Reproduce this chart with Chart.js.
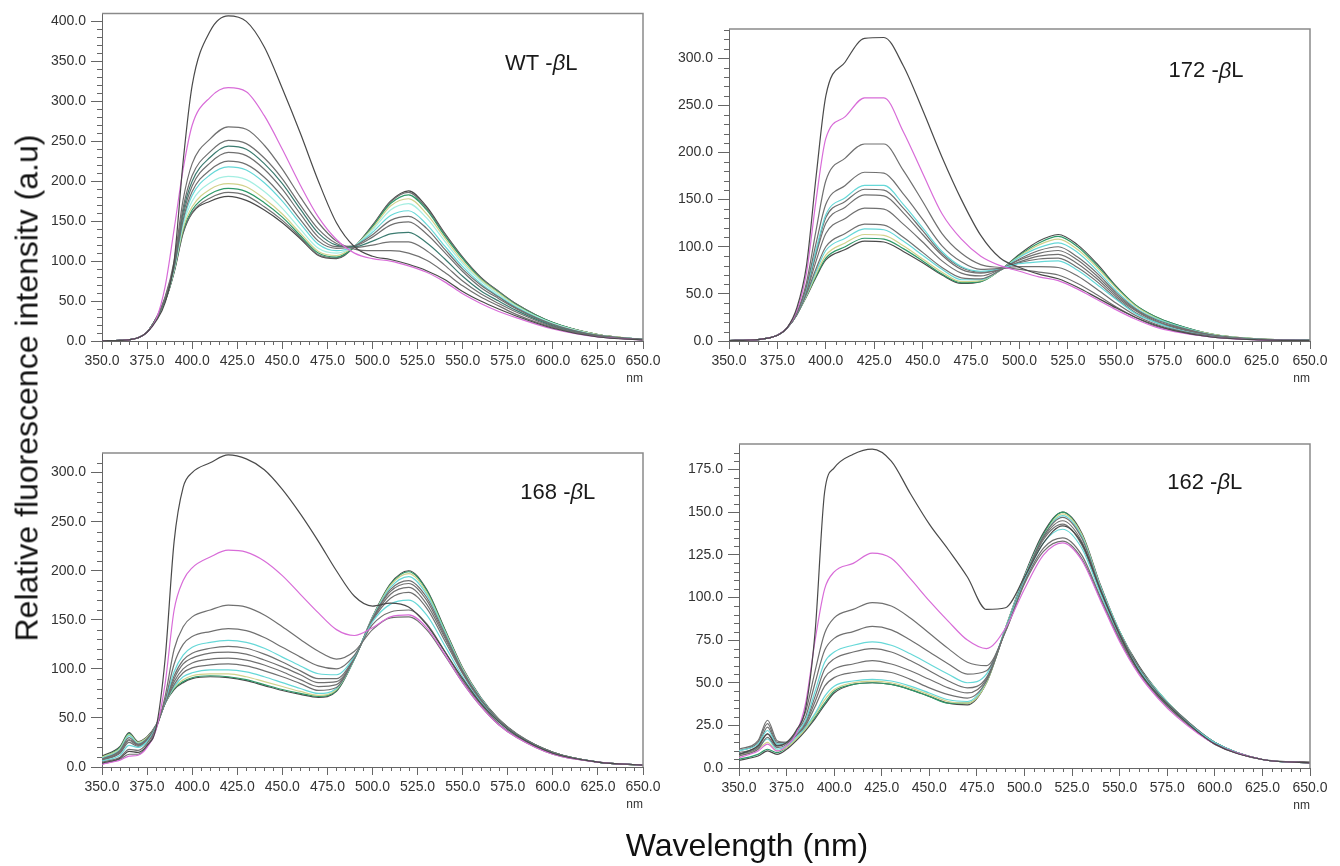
<!DOCTYPE html>
<html>
<head>
<meta charset="utf-8">
<script src="https://cdn.jsdelivr.net/npm/chart.js@4.4.1/dist/chart.umd.min.js"></script>
<style>
body{margin:0;background:#fff;width:1340px;height:866px;position:relative;overflow:hidden;font-family:"Liberation Sans",Arial,sans-serif}
canvas{position:absolute}
#ylab{position:absolute;left:27px;top:388px;transform:translate(-50%,-50%) rotate(-90deg);font-size:32px;white-space:nowrap;color:#111}
#xlab{position:absolute;left:747px;top:845px;transform:translate(-50%,-50%);font-size:32px;white-space:nowrap;color:#111}
</style>
</head>
<body>
<canvas id="c1" width="630" height="400" style="left:40px;top:0px"></canvas>
<canvas id="c2" width="670" height="400" style="left:670px;top:0px"></canvas>
<canvas id="c3" width="630" height="410" style="left:40px;top:420px"></canvas>
<canvas id="c4" width="670" height="410" style="left:670px;top:420px"></canvas>
<div id="ylab">Relative fluorescence intensitv (a.u)</div>
<div id="xlab">Wavelength (nm)</div>
<script>
// wavelengths (nm) at which the spectra were read
const wl = [350,360,365,370,375,380,385,390,395,400,410,420,430,440,450,460,470,480,490,500,510,520,530,540,550,560,570,580,600,625,650];

// WT -bL
const wt0 = [0.3,0.8,1.5,4,11,25,48,100,225,320,388,407,400,368,316,260,200,148,118,106,102,96,88,77,62,50,40,31,16,5,1.5];
const wt1 = [0.3,0.8,1.5,4,11,27,68,140,215,270,305,317,312,282,240,195,155,127,110,103,100,94,86,74,59,47,37,29,15,5,1.5];
const wt2 = [0.3,0.8,1.5,4,11,28,55,100,177,222,253,268,265,245,215,180,148,125,115,113,113,110,101,86,69,55,44,33,17,5.5,1.5];
const wt3 = [0.3,0.8,1.5,4,11,28,54,96,167,207,237,251,247,229,203,170,140,122,117,120,124,124,113,95,75,59,47,36,18,6,1.5];
const wt4 = [0.3,0.8,1.5,4,11,28,53,95,162,200,230,244,240,222,197,165,135,120,118,125,134,136,123,103,81,63,50,38,19,6,1.5];
const wt5 = [0.3,0.8,1.5,4,11,28,53,93,157,194,223,236,232,215,190,159,130,118,119,130,145,149,134,111,87,67,53,40,20,7,2];
const wt6 = [0.3,0.8,1.5,4,11,28,52,92,152,187,214,225,221,205,181,152,125,116,119,133,151,156,141,115,90,70,55,41,21,7,2];
const wt7 = [0.3,0.8,1.5,4,11,28,52,91,149,182,208,218,214,198,175,147,121,113,119,136,157,163,146,119,93,72,56,42,21,7,2];
const wt8 = [0.3,0.8,1.5,4,11,28,51,90,145,175,198,206,202,187,166,140,116,110,119,139,164,172,154,125,97,75,58,43,22,7.5,2];
const wt9 = [0.3,0.8,1.5,4,11,28,51,89,141,168,190,197,193,178,159,135,112,107,119,141,169,178,159,129,100,77,60,44,22,8,2];
const wt10 = [0.3,0.8,1.5,4,11,28,50,88,139,164,184,191,187,173,155,132,110,105,118,143,172,183,164,132,103,78,61,45,23,8,2];
const wt11 = [0.3,0.8,1.5,4,11,28,50,87,137,161,179,186,182,168,151,130,108,104,118,144,174,186,166,134,104,79,62,46,23,8,2];
const wt12 = [0.3,0.8,1.5,4,11,28,50,86,135,160,175,181,176,164,148,128,107,103,118,145,175,188,168,135,105,80,62,46,23,8,2];

// 172 -bL
const m172_0 = [0.5,1,1.5,3,6,14,35,80,175,260,296,321,322,292,245,195,150,112,88,78,71,66,57,46,35,25,17,11,4,1.2,0.5];
const m172_1 = [0.5,1,1.5,3,6,14,32,72,150,215,238,258,258,222,178,135,108,90,80,74,68,64,55,44,33,23,15,10,4,1,0.5];
const m172_2 = [0.5,1,1.5,3,6,14,30,62,118,170,194,209,209,181,148,114,93,81,78,76,73,70,61,49,36,25,16,11,4,1.1,0.6];
const m172_3 = [0.5,1,1.5,3,6,14,29,58,104,145,165,179,178,156,129,101,84,76,77,79,79,78,69,55,40,27,18,12,5,1.3,0.6];
const m172_4 = [0.5,1,1.5,3,6,14,29,56,97,134,152,165,165,145,120,95,79,74,77,82,84,85,75,60,44,29,20,13,5,1.4,0.7];
const m172_5 = [0.5,1,1.5,3,6,14,29,55,95,131,148,161,160,141,117,93,78,73,76,83,87,88,78,63,45,30,20,14,5.5,1.5,0.7];
const m172_6 = [0.5,1,1.5,3,6,14,28,54,92,125,142,155,154,136,113,91,76,72,76,84,90,92,82,66,47,32,21,15,6,1.6,0.8];
const m172_7 = [0.5,1,1.5,3,6,14,28,52,85,114,130,141,140,124,105,85,72,69,76,86,93,96,86,69,49,33,22,15,6,1.7,0.8];
const m172_8 = [0.5,1,1.5,3,6,14,28,50,77,100,114,124,123,110,94,78,67,66,75,87,96,100,89,72,51,34,23,16,6,1.7,0.9];
const m172_9 = [0.5,1,1.5,3,6,14,28,49,74,96,109,119,118,106,91,76,65,65,75,89,99,104,94,75,53,35,24,17,6.5,1.8,0.9];
const m172_10 = [0.5,1,1.5,3,6,14,28,48,71,91,104,113,112,101,87,73,63,64,75,90,102,108,97,78,56,37,25,17,7,2,1];
const m172_11 = [0.5,1,1.5,3,6,14,28,48,69,88,100,109,108,98,85,71,62,63,75,91,104,111,100,80,57,38,26,18,7,2,1];
const m172_12 = [0.5,1,1.5,3,6,14,28,47,68,86,97,106,105,95,83,70,61,63,75,92,106,113,102,82,58,38,26,18,7,2,1];

// 168 -bL
const m168_0 = [4,9,16,15,22,40,110,230,285,300,310,318,314,303,283,258,230,200,174,164,167,163,145,118,90,65,46,32,14,5,2];
const m168_1 = [3,7,11,12,20,38,85,160,190,203,214,221,219,210,195,176,157,140,134,142,153,155,142,115,86,62,43,30,13,5,2];
const m168_2 = [3,8,13,13,21,39,72,120,143,153,160,165,163,155,143,130,118,110,118,140,152,153,140,114,86,62,43,30,13,5,2];
const m168_3 = [5,10,18,17,24,40,68,105,125,133,138,141,139,132,122,112,103,100,114,145,158,160,146,118,88,64,44,31,14,5,2];
const m168_4 = [6,12,22,20,26,41,67,97,114,122,127,129,127,121,112,103,95,94,113,148,166,170,155,124,92,66,46,32,14,5,2];
const m168_5 = [7,14,25,21,27,41,66,93,109,116,121,123,121,115,107,98,90,90,112,149,172,178,162,129,95,67,47,32,14,5,2];
const m168_6 = [7,15,27,22,28,42,66,90,105,111,116,117,115,109,102,94,86,87,111,150,176,183,166,132,96,68,47,33,15,5,2];
const m168_7 = [8,16,28,23,28,42,65,87,100,106,110,111,109,104,97,89,82,84,111,151,179,187,170,134,97,69,48,33,15,5,2];
const m168_8 = [8,17,30,23,29,42,65,84,96,101,104,105,103,98,92,85,78,81,111,151,181,190,173,136,98,69,48,33,15,5,2];
const m168_9 = [9,18,32,24,29,42,65,82,92,96,99,99,97,92,86,80,75,80,110,152,183,194,176,138,99,70,48,33,15,5,2];
const m168_10 = [10,19,33,25,30,42,65,81,89,93,95,95,92,87,82,77,73,79,110,152,185,197,178,139,100,70,48,33,15,5,2];
const m168_11 = [10,20,34,25,30,42,65,80,87,91,93,92,89,84,79,75,72,78,110,152,186,199,180,140,100,70,48,33,15,5,2];
const m168_12 = [11,21,35,26,31,43,65,79,86,90,92,91,88,83,78,74,71,77,110,153,187,200,181,141,101,71,49,34,15,5,2];

// 162 -bL
const m162_0 = [8,13,20,13,15,22,35,80,162,176,184,187,180,161,143,128,112,93,94,112,132,142,132,104,78,57,43,32,14,5,3];
const m162_1 = [6,10,14,10,13,20,38,75,105,115,120,126,123,111,98,86,75,70,82,105,125,132,122,98,74,55,41,30,14,5,3];
const m162_2 = [7,11,18,12,14,21,33,57,79,88,93,97,95,88,79,70,62,60,80,108,127,133,123,99,75,56,42,31,14,5,3];
const m162_3 = [8,12,20,13,15,21,30,50,69,76,80,83,81,75,68,61,55,57,80,109,129,135,125,100,76,57,42,31,14,5,3];
const m162_4 = [10,14,22,14,15,20,28,45,62,68,72,74,72,67,61,55,50,55,81,110,132,140,129,102,77,58,43,32,15,5,3];
const m162_5 = [9,13,24,14,15,20,27,42,58,64,68,70,68,63,57,51,47,53,81,110,134,143,131,103,78,58,43,32,15,5,3];
const m162_6 = [10,15,26,15,15,19,26,39,53,58,61,63,61,57,52,47,44,52,81,111,135,145,133,104,79,59,44,32,15,5,3];
const m162_7 = [11,16,28,16,15,19,25,36,48,53,56,57,56,52,47,43,41,51,81,111,136,147,135,105,79,59,44,33,15,5,3];
const m162_8 = [8,12,17,11,13,18,24,32,42,48,51,52,51,48,44,40,39,51,82,112,136,148,136,106,80,59,45,33,15,5,3];
const m162_9 = [7,11,15,10,12,17,23,31,40,46,50,51,50,47,43,39,38,50,82,112,136,149,137,106,80,59,45,33,15,5,3];
const m162_10 = [5,8,11,9,12,17,23,30,38,45,49,50,49,46,42,38,38,50,82,112,137,150,137,106,80,59,45,33,15,5,3];
const m162_11 = [4.5,7,10,8,11,16,22,29,37,44,49,50,49,46,42,38,37,50,82,113,138,150,138,107,80,60,45,33,15,5,3.5];

const DK = '#4a4a4a', GR = '#707070', MG = '#d86cd8', CY = '#66d8d8', LC = '#a4eee2', YL = '#d2d28c', GN = '#2f9a6a', TL = '#3b7b70';

Chart.defaults.font.family = '"Liberation Sans", Arial, sans-serif';
Chart.defaults.color = '#333';

const decor = {
  id: 'decor',
  afterDraw(chart, args, o) {
    const ctx = chart.ctx, a = chart.chartArea, x = chart.scales.x, y = chart.scales.y;
    ctx.save();
    ctx.strokeStyle = '#666';
    ctx.lineWidth = 1;
    ctx.beginPath();
    for (let v = 355; v < 650; v += 5) {
      if (v % 25) {
        const p = Math.round(x.getPixelForValue(v)) + 0.5;
        ctx.moveTo(p, a.bottom); ctx.lineTo(p, a.bottom + 4);
      }
    }
    for (let v = o.yMinor; v < y.max; v += o.yMinor) {
      if (v % o.yMajor) {
        const p = Math.round(y.getPixelForValue(v)) + 0.5;
        ctx.moveTo(a.left - 5, p); ctx.lineTo(a.left, p);
      }
    }
    ctx.stroke();
    ctx.strokeStyle = '#8a8a8a';
    ctx.lineWidth = 1.5;
    ctx.beginPath();
    ctx.moveTo(a.left, a.top); ctx.lineTo(a.right, a.top); ctx.lineTo(a.right, a.bottom);
    ctx.stroke();
    ctx.fillStyle = '#333';
    ctx.font = '12px "Liberation Sans"';
    ctx.textAlign = 'right';
    ctx.textBaseline = 'middle';
    ctx.fillText('nm', a.right, a.bottom + 38);
    // panel name, e.g. "WT -βL"
    const L = o.label;
    let px = x.getPixelForValue(L.x);
    const py = y.getPixelForValue(L.y);
    const f = '22px "Liberation Sans"';
    ctx.textAlign = 'left';
    ctx.fillStyle = '#1a1a1a';
    ctx.font = f; ctx.fillText(L.pre, px, py); px += ctx.measureText(L.pre).width;
    ctx.font = 'italic ' + f; ctx.fillText('β', px, py); px += ctx.measureText('β').width;
    ctx.font = f; ctx.fillText('L', px, py);
    ctx.restore();
  }
};

function panel(id, series, colors, yMax, yMajor, yMinor, padTop, padRight, yW, xH, label) {
  new Chart(document.getElementById(id), {
    type: 'line',
    data: {
      datasets: series.map((s, i) => ({
        data: s.map((v, j) => ({x: wl[j], y: v})),
        borderColor: colors[i],
        borderWidth: 1.2,
        pointRadius: 0,
        fill: false,
        cubicInterpolationMode: 'monotone'
      }))
    },
    options: {
      responsive: false,
      animation: false,
      events: [],
      layout: {padding: {top: padTop, right: padRight, bottom: 0, left: 0}},
      plugins: {
        legend: {display: false},
        tooltip: {enabled: false},
        decor: {label: label, yMajor: yMajor, yMinor: yMinor}
      },
      scales: {
        x: {
          type: 'linear', min: 350, max: 650,
          ticks: {stepSize: 25, callback: v => v.toFixed(1), maxRotation: 0, autoSkip: false, padding: 4, color: '#333', font: {size: 14}},
          grid: {drawOnChartArea: false, tickLength: 8, color: '#666'},
          border: {color: '#666'},
          afterFit: s => { s.height = xH; }
        },
        y: {
          min: 0, max: yMax,
          ticks: {stepSize: yMajor, includeBounds: false, callback: v => v.toFixed(1), padding: 5, color: '#333', font: {size: 14}},
          grid: {drawOnChartArea: false, tickLength: 11, color: '#666'},
          border: {color: '#666'},
          afterFit: s => { s.width = yW; }
        }
      }
    },
    plugins: [decor]
  });
}

panel('c1', [wt0,wt1,wt2,wt3,wt4,wt5,wt6,wt7,wt8,wt9,wt10,wt11,wt12],
  [DK,MG,GR,GR,TL,GR,GR,CY,LC,YL,GN,GR,DK], 410, 50, 10, 11, 27, 62, 59, {pre: 'WT -', x: 573.5, y: 347});
panel('c2', [m172_0,m172_1,m172_2,m172_3,m172_4,m172_5,m172_6,m172_7,m172_8,m172_9,m172_10,m172_11,m172_12],
  [DK,MG,GR,GR,CY,GR,GR,GR,GR,CY,YL,GN,DK], 331, 50, 10, 29, 30, 59, 59, {pre: '172 -', x: 577, y: 286});
panel('c3', [m168_0,m168_1,m168_2,m168_3,m168_4,m168_5,m168_6,m168_7,m168_8,m168_9,m168_10,m168_11,m168_12],
  [DK,MG,GR,GR,CY,GR,GR,GR,GR,CY,YL,GN,DK], 320, 50, 10, 33, 27, 62, 63, {pre: '168 -', x: 582, y: 279});
panel('c4', [m162_0,m162_1,m162_2,m162_3,m162_4,m162_5,m162_6,m162_7,m162_8,m162_9,m162_10,m162_11],
  [DK,MG,GR,GR,CY,GR,GR,GR,CY,YL,GN,DK], 190, 25, 5, 24, 30, 69, 62, {pre: '162 -', x: 575, y: 167});
</script>
</body>
</html>
